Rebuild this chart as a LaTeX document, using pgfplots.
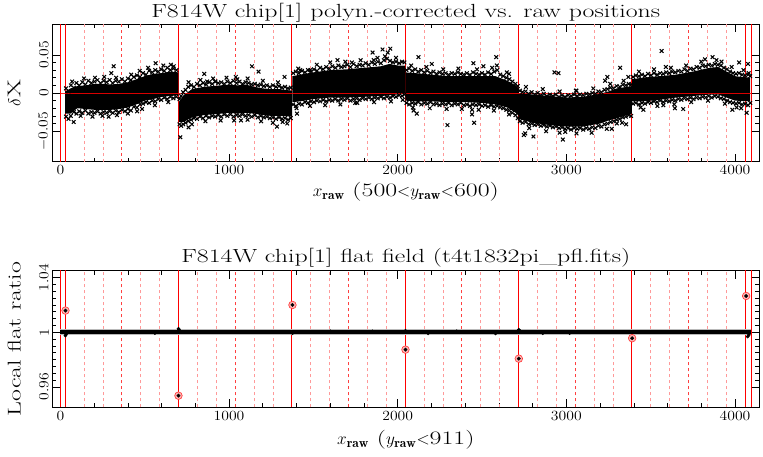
\documentclass[border=0pt]{standalone}
\usepackage{fontspec}
\usepackage{pgfplots}
\pgfplotsset{compat=1.18}
\newfontfamily\widefont{lmroman17-regular.otf}[FakeStretch=1.36]
\newfontfamily\labfont{lmroman17-regular.otf}[FakeStretch=1.4]
\newfontfamily\tickfont{lmroman12-regular.otf}[FakeStretch=1.12]
\newcommand\bigtxt{\widefont\fontsize{19}{21}\selectfont}
\newcommand\labtxt{\labfont\fontsize{18.5}{20}\selectfont}
\newcommand\ticktxt{\tickfont\fontsize{14}{16}\selectfont}
\pgfplotsset{
 every axis title shift=0pt,
 myax/.style={
  width=707pt, scale only axis,
  xmin=-48, xmax=4144,
  xtick={0,1000,2000,3000,4000},
  minor x tick num=4,
  /pgf/number format/assume math mode=true,
  /pgf/number format/1000 sep={},
  scaled y ticks=false,
  tick align=inside, xtick pos=both, ytick pos=both,
  major tick length=8pt, minor tick length=4pt,
  every tick/.style={black, line width=0.6pt},
  axis line style={line width=0.8pt},
  ticklabel style={font=\ticktxt},
  yticklabel style={rotate=90, anchor=south},
  clip=true,
 },
 vsolid/.style={ycomb, red, line width=0.9pt, mark=none},
 vdlight/.style={ycomb, red!40, line width=0.7pt, dash pattern=on 3pt off 3pt, mark=none},
 vddark/.style={ycomb, red!75, line width=0.7pt, dash pattern=on 3pt off 3pt, mark=none},
 core/.style={fill=black, draw=none},
}
\begin{document}
\begin{tikzpicture}
\useasboundingbox (0,0) rectangle (763pt,457pt);
% ---------------- top panel ----------------
\begin{axis}[myax, at={(52.3pt,295.3pt)}, anchor=south west,
  height=137.4pt,
  ymin=-0.09, ymax=0.09,
  ytick={-0.05,0,0.05}, yticklabels={$-$0.05,0,0.05},
  minor y tick num=4,
  title={\bigtxt F814W chip[1] polyn.-corrected vs. raw positions},
  title style={at={(axis description cs:0.5,1.051)}, anchor=base, inner sep=0pt},
  xlabel={\bigtxt $x_{\mathbf{raw}}$\ (500$<$$y_{\mathbf{raw}}$$<$600)},
  xlabel style={at={(axis description cs:0.5,-0.255)}, anchor=base},
  ylabel={\labtxt $\delta$X},
  ylabel style={at={(axis description cs:-0.054,0.5)}, anchor=center},
]
\addplot[vdlight] coordinates {(140,1)(252,1)(476,1)(588,1)(812,1)(924,1)(1148,1)(1260,1)(1484,1)(1596,1)(1820,1)(1932,1)(2156,1)(2268,1)(2492,1)(2604,1)(2828,1)(2940,1)(3164,1)(3276,1)(3500,1)(3612,1)(3836,1)(3948,1)};
\addplot[vdlight] coordinates {(140,-1)(252,-1)(476,-1)(588,-1)(812,-1)(924,-1)(1148,-1)(1260,-1)(1484,-1)(1596,-1)(1820,-1)(1932,-1)(2156,-1)(2268,-1)(2492,-1)(2604,-1)(2828,-1)(2940,-1)(3164,-1)(3276,-1)(3500,-1)(3612,-1)(3836,-1)(3948,-1)};
\addplot[vddark] coordinates {(364,1)(1036,1)(1708,1)(2380,1)(3052,1)(3724,1)};
\addplot[vddark] coordinates {(364,-1)(1036,-1)(1708,-1)(2380,-1)(3052,-1)(3724,-1)};
\addplot[vsolid] coordinates {(0,1)(28,1)(700,1)(1372,1)(2044,1)(2716,1)(3388,1)(4060,1)(4096,1)};
\addplot[vsolid] coordinates {(0,-1)(28,-1)(700,-1)(1372,-1)(2044,-1)(2716,-1)(3388,-1)(4060,-1)(4096,-1)};
% dense cores of the scatter
\addplot[core] coordinates {(28,0.002)(60,0.006)(100,0.009)(150,0.010)(200,0.012)(250,0.012)(300,0.011)(350,0.012)(400,0.014)(450,0.018)(500,0.022)(550,0.025)(600,0.026)(650,0.028)(700,0.027)(700,-0.003)(650,-0.004)(600,-0.005)(550,-0.008)(500,-0.010)(450,-0.015)(400,-0.019)(350,-0.021)(300,-0.022)(250,-0.022)(200,-0.022)(150,-0.021)(100,-0.020)(60,-0.027)(28,-0.027)};
\addplot[core] coordinates {(702,-0.012)(730,-0.003)(780,0.005)(850,0.008)(900,0.009)(950,0.010)(1000,0.011)(1050,0.010)(1100,0.011)(1150,0.008)(1200,0.006)(1250,0.005)(1300,0.005)(1374,0.003)(1374,-0.031)(1300,-0.030)(1250,-0.030)(1200,-0.029)(1150,-0.027)(1100,-0.026)(1050,-0.027)(1000,-0.026)(950,-0.027)(900,-0.028)(850,-0.029)(780,-0.032)(730,-0.038)(702,-0.038)};
\addplot[core] coordinates {(1376,0.022)(1420,0.024)(1500,0.027)(1600,0.030)(1700,0.031)(1800,0.033)(1900,0.035)(1950,0.038)(2000,0.036)(2046,0.036)(2046,-0.001)(2000,-0.002)(1900,-0.004)(1800,-0.005)(1700,-0.006)(1600,-0.006)(1500,-0.008)(1420,-0.011)(1376,-0.012)};
\addplot[core] coordinates {(2046,0.027)(2100,0.026)(2200,0.024)(2300,0.022)(2400,0.022)(2500,0.022)(2580,0.022)(2650,0.016)(2700,0.010)(2718,0.006)(2718,-0.030)(2700,-0.026)(2650,-0.019)(2580,-0.015)(2500,-0.013)(2400,-0.012)(2300,-0.012)(2200,-0.011)(2100,-0.011)(2046,-0.010)};
\addplot[core] coordinates {(2718,0.000)(2800,-0.002)(2900,-0.004)(3000,-0.006)(3100,-0.005)(3200,-0.001)(3250,0.002)(3300,0.006)(3388,0.009)(3388,-0.027)(3300,-0.033)(3250,-0.036)(3200,-0.040)(3100,-0.044)(3000,-0.044)(2900,-0.042)(2800,-0.039)(2718,-0.034)};
\addplot[core] coordinates {(3390,0.018)(3450,0.020)(3550,0.022)(3650,0.024)(3750,0.028)(3850,0.033)(3900,0.034)(3950,0.028)(4000,0.022)(4090,0.020)(4090,-0.011)(4000,-0.010)(3950,-0.006)(3900,-0.002)(3850,-0.002)(3750,-0.004)(3650,-0.006)(3550,-0.009)(3450,-0.011)(3390,-0.011)};
% edge and outlying points
\addplot[only marks, mark=x, mark size=2.6pt, line width=1.05pt, black] coordinates {
(33,0.006)(48,0.002)(62,0.010)(80,0.007)(95,0.013)(112,0.010)(130,0.014)(148,0.011)(166,0.016)(184,0.013)(202,0.015)(220,0.017)(238,0.013)(256,0.016)(274,0.014)(292,0.017)(310,0.013)(328,0.016)(346,0.015)(364,0.018)(382,0.015)(400,0.019)(418,0.017)(436,0.021)(454,0.023)(472,0.021)(490,0.026)(508,0.024)(526,0.029)(544,0.027)(562,0.030)(580,0.028)(598,0.031)(616,0.029)(634,0.033)(652,0.030)(670,0.032)(688,0.030)
(33,-0.031)(48,-0.034)(62,-0.030)(80,-0.025)(95,-0.027)(112,-0.024)(130,-0.026)(148,-0.023)(166,-0.027)(184,-0.025)(202,-0.026)(220,-0.024)(238,-0.027)(256,-0.025)(274,-0.026)(292,-0.024)(310,-0.026)(328,-0.023)(346,-0.025)(364,-0.022)(382,-0.024)(400,-0.021)(418,-0.023)(436,-0.018)(454,-0.019)(472,-0.015)(490,-0.014)(508,-0.012)(526,-0.013)(544,-0.010)(562,-0.011)(580,-0.008)(598,-0.009)(616,-0.006)(634,-0.008)(652,-0.005)(670,-0.007)(688,-0.005)
(706,-0.008)(716,-0.004)(728,0.001)(742,0.004)(758,0.008)(775,0.010)(792,0.008)(810,0.012)(828,0.010)(846,0.013)(864,0.011)(882,0.014)(900,0.012)(918,0.015)(936,0.013)(954,0.014)(972,0.012)(990,0.015)(1008,0.013)(1026,0.016)(1044,0.013)(1062,0.015)(1080,0.012)(1098,0.014)(1116,0.013)(1134,0.011)(1152,0.012)(1170,0.010)(1188,0.011)(1206,0.009)(1224,0.010)(1242,0.008)(1260,0.010)(1278,0.008)(1296,0.009)(1314,0.007)(1332,0.008)(1350,0.006)(1366,0.007)
(706,-0.041)(716,-0.043)(728,-0.041)(742,-0.039)(758,-0.037)(775,-0.035)(792,-0.033)(810,-0.034)(828,-0.031)(846,-0.033)(864,-0.030)(882,-0.032)(900,-0.030)(918,-0.031)(936,-0.029)(954,-0.031)(972,-0.028)(990,-0.030)(1008,-0.028)(1026,-0.031)(1044,-0.029)(1062,-0.030)(1080,-0.028)(1098,-0.030)(1116,-0.029)(1134,-0.031)(1152,-0.029)(1170,-0.032)(1188,-0.030)(1206,-0.032)(1224,-0.031)(1242,-0.033)(1260,-0.032)(1278,-0.034)(1296,-0.032)(1314,-0.034)(1332,-0.033)(1350,-0.035)(1366,-0.033)
(1380,0.026)(1396,0.028)(1414,0.026)(1432,0.029)(1450,0.027)(1468,0.030)(1486,0.028)(1504,0.031)(1522,0.029)(1540,0.033)(1558,0.031)(1576,0.034)(1594,0.032)(1612,0.035)(1630,0.033)(1648,0.036)(1666,0.034)(1684,0.035)(1702,0.037)(1720,0.034)(1738,0.038)(1756,0.035)(1774,0.037)(1792,0.036)(1810,0.039)(1828,0.037)(1846,0.040)(1864,0.038)(1882,0.041)(1900,0.039)(1918,0.043)(1936,0.045)(1954,0.042)(1972,0.040)(1990,0.041)(2008,0.039)(2026,0.041)(2040,0.040)
(1380,-0.015)(1396,-0.017)(1414,-0.014)(1432,-0.015)(1450,-0.012)(1468,-0.013)(1486,-0.011)(1504,-0.012)(1522,-0.010)(1540,-0.011)(1558,-0.009)(1576,-0.011)(1594,-0.009)(1612,-0.010)(1630,-0.008)(1648,-0.010)(1666,-0.008)(1684,-0.009)(1702,-0.007)(1720,-0.010)(1738,-0.008)(1756,-0.007)(1774,-0.009)(1792,-0.007)(1810,-0.008)(1828,-0.006)(1846,-0.008)(1864,-0.006)(1882,-0.007)(1900,-0.005)(1918,-0.007)(1936,-0.005)(1954,-0.006)(1972,-0.004)(1990,-0.005)(2008,-0.003)(2026,-0.004)(2040,-0.002)
(2052,0.030)(2068,0.032)(2086,0.029)(2104,0.031)(2122,0.028)(2140,0.030)(2158,0.027)(2176,0.029)(2194,0.026)(2212,0.028)(2230,0.025)(2248,0.027)(2266,0.025)(2284,0.026)(2302,0.024)(2320,0.026)(2338,0.025)(2356,0.027)(2374,0.025)(2392,0.024)(2410,0.026)(2428,0.024)(2446,0.027)(2464,0.025)(2482,0.024)(2500,0.026)(2518,0.024)(2536,0.027)(2554,0.025)(2572,0.028)(2590,0.030)(2608,0.024)(2626,0.022)(2644,0.020)(2662,0.018)(2680,0.015)(2698,0.012)(2712,0.009)
(2052,-0.013)(2068,-0.015)(2086,-0.013)(2104,-0.014)(2122,-0.012)(2140,-0.015)(2158,-0.013)(2176,-0.014)(2194,-0.012)(2212,-0.015)(2230,-0.014)(2248,-0.016)(2266,-0.014)(2284,-0.015)(2302,-0.013)(2320,-0.016)(2338,-0.014)(2356,-0.015)(2374,-0.013)(2392,-0.016)(2410,-0.015)(2428,-0.017)(2446,-0.015)(2464,-0.016)(2482,-0.015)(2500,-0.017)(2518,-0.016)(2536,-0.018)(2554,-0.016)(2572,-0.018)(2590,-0.017)(2608,-0.019)(2626,-0.020)(2644,-0.022)(2662,-0.023)(2680,-0.026)(2698,-0.029)(2712,-0.033)
(2724,0.003)(2740,0.001)(2758,0.002)(2776,-0.001)(2794,0.001)(2812,-0.002)(2830,0.000)(2848,-0.003)(2866,-0.001)(2884,-0.004)(2902,-0.002)(2920,-0.004)(2938,-0.002)(2956,-0.005)(2974,-0.003)(2992,-0.005)(3010,-0.003)(3028,-0.004)(3046,-0.002)(3064,-0.004)(3082,-0.002)(3100,-0.003)(3118,-0.001)(3136,-0.002)(3154,0.000)(3172,-0.001)(3190,0.002)(3208,0.001)(3226,0.004)(3244,0.005)(3262,0.007)(3280,0.006)(3298,0.009)(3316,0.008)(3334,0.011)(3352,0.010)(3370,0.012)(3384,0.011)
(2724,-0.037)(2740,-0.039)(2758,-0.038)(2776,-0.041)(2794,-0.040)(2812,-0.042)(2830,-0.041)(2848,-0.043)(2866,-0.042)(2884,-0.044)(2902,-0.043)(2920,-0.045)(2938,-0.044)(2956,-0.046)(2974,-0.045)(2992,-0.047)(3010,-0.046)(3028,-0.048)(3046,-0.046)(3064,-0.047)(3082,-0.046)(3100,-0.048)(3118,-0.046)(3136,-0.047)(3154,-0.045)(3172,-0.046)(3190,-0.043)(3208,-0.044)(3226,-0.041)(3244,-0.040)(3262,-0.038)(3280,-0.037)(3298,-0.035)(3316,-0.034)(3334,-0.032)(3352,-0.031)(3370,-0.029)(3384,-0.030)
(3396,0.021)(3412,0.023)(3430,0.022)(3448,0.024)(3466,0.022)(3484,0.025)(3502,0.023)(3520,0.026)(3538,0.024)(3556,0.026)(3574,0.025)(3592,0.027)(3610,0.026)(3628,0.028)(3646,0.027)(3664,0.029)(3682,0.028)(3700,0.031)(3718,0.029)(3736,0.032)(3754,0.031)(3772,0.034)(3790,0.033)(3808,0.036)(3826,0.035)(3844,0.037)(3862,0.036)(3880,0.038)(3898,0.037)(3916,0.036)(3934,0.033)(3952,0.031)(3970,0.028)(3988,0.026)(4006,0.025)(4024,0.026)(4042,0.024)(4060,0.023)(4078,0.024)(4090,0.022)
(3396,-0.014)(3412,-0.013)(3430,-0.015)(3448,-0.013)(3466,-0.014)(3484,-0.012)(3502,-0.013)(3520,-0.011)(3538,-0.012)(3556,-0.010)(3574,-0.012)(3592,-0.010)(3610,-0.011)(3628,-0.009)(3646,-0.010)(3664,-0.008)(3682,-0.009)(3700,-0.007)(3718,-0.008)(3736,-0.006)(3754,-0.008)(3772,-0.006)(3790,-0.007)(3808,-0.005)(3826,-0.006)(3844,-0.004)(3862,-0.006)(3880,-0.004)(3898,-0.005)(3916,-0.007)(3934,-0.008)(3952,-0.010)(3970,-0.012)(3988,-0.013)(4006,-0.014)(4024,-0.013)(4042,-0.015)(4060,-0.014)(4078,-0.016)(4090,-0.013)
(70,0.015)(140,0.019)(205,0.020)(260,0.021)(330,0.020)(420,0.024)(470,0.029)(520,0.033)(610,0.036)(655,0.037)(120,-0.030)(190,-0.031)(250,-0.030)(335,-0.029)(400,-0.027)(455,-0.024)(560,-0.016)(640,-0.012)
(760,0.014)(830,0.017)(905,0.019)(985,0.020)(1040,0.021)(1110,0.019)(1200,0.016)(1290,0.014)(780,-0.041)(860,-0.037)(950,-0.036)(1030,-0.036)(1110,-0.035)(1190,-0.037)(1260,-0.039)(1345,-0.040)
(1410,0.032)(1520,0.037)(1600,0.040)(1690,0.041)(1780,0.043)(1880,0.046)(1990,0.046)(1400,-0.020)(1480,-0.017)(1570,-0.016)(1660,-0.015)(1760,-0.013)(1860,-0.012)(1960,-0.011)(2030,-0.009)
(2080,0.036)(2170,0.034)(2270,0.031)(2360,0.032)(2470,0.031)(2560,0.033)(2660,0.025)(2090,-0.019)(2190,-0.020)(2290,-0.021)(2380,-0.021)(2480,-0.022)(2570,-0.023)(2660,-0.028)
(2760,0.008)(2860,0.005)(2960,0.002)(3060,0.003)(3160,0.006)(3260,0.012)(3340,0.016)(2780,-0.046)(2880,-0.050)(2960,-0.052)(3060,-0.053)(3150,-0.052)(3240,-0.047)(3330,-0.039)
(3430,0.028)(3520,0.031)(3620,0.033)(3710,0.036)(3800,0.041)(3890,0.043)(3980,0.034)(4050,0.030)(3440,-0.019)(3540,-0.017)(3640,-0.015)(3740,-0.012)(3840,-0.010)(3940,-0.014)(4010,-0.019)
(79,-0.038)(286,-0.031)(302,0.026)(316,0.035)(484,-0.021)(565,0.039)(672,0.035)(711,-0.058)(760,-0.045)(853,0.025)(870,0.015)(919,0.015)(1049,0.018)(1071,-0.036)(1136,0.035)(1175,0.028)(1284,-0.044)(1318,-0.038)(1329,0.021)(1403,-0.027)(1422,0.030)(1482,0.030)(1643,0.043)(1728,0.040)(1748,-0.013)(1851,0.053)(1858,0.043)(1910,0.057)(1925,0.048)(1941,0.053)(1956,0.058)(2094,-0.023)(2113,-0.027)(2123,0.047)(2202,0.038)(2295,-0.042)(2441,-0.022)(2441,-0.028)(2449,0.039)(2453,-0.039)(2508,0.035)(2584,0.047)(2588,0.036)(2647,0.027)(2748,-0.055)(2756,-0.053)(2805,-0.057)(2929,0.027)(2953,0.026)(2979,-0.061)(2993,-0.051)(3056,0.003)(3230,0.016)(3243,0.021)(3269,-0.047)(3299,-0.040)(3319,0.033)(3354,-0.041)(3368,0.021)(3457,-0.022)(3565,0.055)(3575,-0.016)(3590,0.034)(3644,-0.020)(3693,-0.021)(3822,0.044)(3867,0.047)(3920,0.041)(3984,-0.022)(4024,0.040)(4036,-0.020)(4069,-0.026)(4077,0.038)(4081,0.026)
};
\addplot[red, line width=0.6pt, opacity=0.85, mark=none] coordinates {(0,0)(4096,0)};
\end{axis}
% ---------------- bottom panel ----------------
\begin{axis}[myax, at={(52.3pt,49.7pt)}, anchor=south west,
  height=136.6pt,
  ymin=0.945, ymax=1.045,
  ytick={0.96,1,1.04}, yticklabels={0.96,1,1.04},
  minor y tick num=7,
  title={\bigtxt F814W chip[1] flat field (t4t1832pi\_pfl.fits)},
  title style={at={(axis description cs:0.5,1.058)}, anchor=base, inner sep=0pt},
  xlabel={\bigtxt $x_{\mathbf{raw}}$\ ($y_{\mathbf{raw}}$$<$911)},
  xlabel style={at={(axis description cs:0.5,-0.275)}, anchor=base},
  ylabel={\labtxt Local flat ratio},
  ylabel style={at={(axis description cs:-0.054,0.5)}, anchor=center},
]
\addplot[vdlight] coordinates {(140,2)(252,2)(476,2)(588,2)(812,2)(924,2)(1148,2)(1260,2)(1484,2)(1596,2)(1820,2)(1932,2)(2156,2)(2268,2)(2492,2)(2604,2)(2828,2)(2940,2)(3164,2)(3276,2)(3500,2)(3612,2)(3836,2)(3948,2)};
\addplot[vddark] coordinates {(364,2)(1036,2)(1708,2)(2380,2)(3052,2)(3724,2)};
\addplot[vsolid] coordinates {(0,2)(28,2)(700,2)(1372,2)(2044,2)(2716,2)(3388,2)(4060,2)(4096,2)};
\addplot[gray!55, line width=5.5pt, mark=none] coordinates {(0,1.0002)(4096,1.0002)};
\addplot[black, line width=4pt, mark=none] coordinates {(0,1)(4096,1)};
\addplot[only marks, mark=*, mark size=1.6pt, black] coordinates {(30,0.9975)(34,0.9985)(700,1.0025)(703,1.0018)(1376,0.9992)(2046,1.0010)(2718,1.0018)(2722,1.0012)(4075,0.9968)(4082,0.9980)(560,0.9993)(2180,0.9991)(2580,0.9991)(2860,0.9992)(3020,0.9993)(3390,0.9994)(1600,1.0006)(1850,1.0006)(2350,1.0006)};
\addplot[only marks, mark=*, mark size=3.8pt, draw=red!80, fill=red!30, line width=0.6pt] coordinates {(30,1.0158)(700,0.9535)(1376,1.0199)(2046,0.9872)(2718,0.9806)(3390,0.9956)(4066,1.0265)};
\addplot[only marks, mark=*, mark size=1.7pt, black] coordinates {(30,1.0158)(700,0.9535)(1376,1.0199)(2046,0.9872)(2718,0.9806)(3390,0.9956)(4066,1.0265)};
\end{axis}
\end{tikzpicture}
\end{document}
